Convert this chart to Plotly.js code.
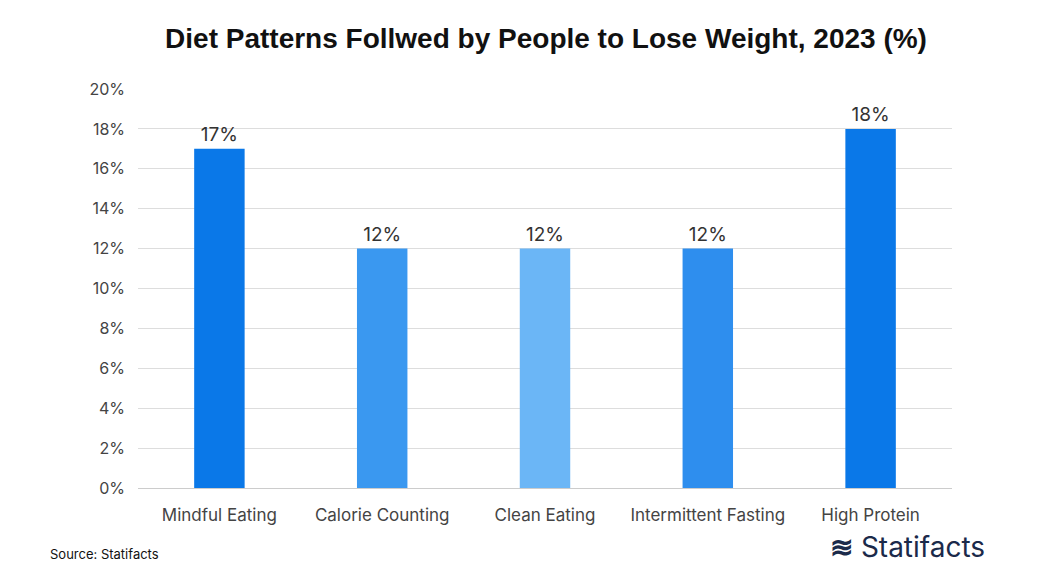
<!DOCTYPE html>
<html>
<head>
<meta charset="utf-8">
<script src="https://cdn.plot.ly/plotly-3.0.1.min.js"></script>
<style>body{margin:0;background:#fff}#chart{width:1042px;height:588px}</style>
</head>
<body>
<div id="chart"></div>
<script>
// Diet patterns chart
const categories = ["Mindful Eating", "Calorie Counting", "Clean Eating", "Intermittent Fasting", "High Protein"];
const shares = [17, 12, 12, 12, 18];
const barColors = ["#0A78E8", "#3A98F0", "#6BB6F6", "#2E8EEE", "#0A78E8"];

const TEXT = "#444";

Plotly.newPlot(
  "chart",
  [
    {
      x: categories,
      y: shares,
      type: "bar",
      width: 0.31,
      marker: { color: barColors },
      text: shares.map((v) => v + "%"),
      textposition: "outside",
      cliponaxis: false,
      textfont: { family: "Inter, sans-serif", size: 19, color: "#333" },
      hoverinfo: "skip",
    },
  ],
  {
    width: 1042,
    height: 588,
    margin: { t: 89, r: 90, b: 100, l: 138 },
    paper_bgcolor: "#fff",
    plot_bgcolor: "#fff",
    font: { family: "Inter, sans-serif", color: TEXT, size: 16 },
    title: {
      text: "<b>Diet Patterns Follwed by People to Lose Weight, 2023 (%)</b>",
      x: 0.524, xanchor: "center", y: 0.935, yanchor: "middle",
      font: { size: 28, color: "#111", family: "Liberation Sans, Arial, sans-serif" },
    },
    xaxis: {
      showline: true, linecolor: "#ccc", tickfont: { size: 17, color: TEXT },
      ticks: "", ticklen: 0, ticklabelstandoff: 12,
    },
    yaxis: {
      range: [0, 20], dtick: 2, ticksuffix: "%", gridcolor: "#ddd",
      zeroline: false, tickfont: { size: 16, color: TEXT }, ticklabelstandoff: 12,
    },
    showlegend: false,
    annotations: [
      {
        text: "Source: Statifacts", xref: "paper", yref: "paper",
        x: -0.111, y: -0.165, xanchor: "left", yanchor: "middle", showarrow: false,
        font: { size: 13, color: "#111" },
      },
      {
        text: "<b>≋</b> Statifacts", xref: "paper", yref: "paper",
        x: 1.043, y: -0.148, xanchor: "right", yanchor: "middle", showarrow: false,
        font: { size: 28, color: "#1B2A4A" },
      },
    ],
  },
  { displayModeBar: false }
);
</script>
</body>
</html>
